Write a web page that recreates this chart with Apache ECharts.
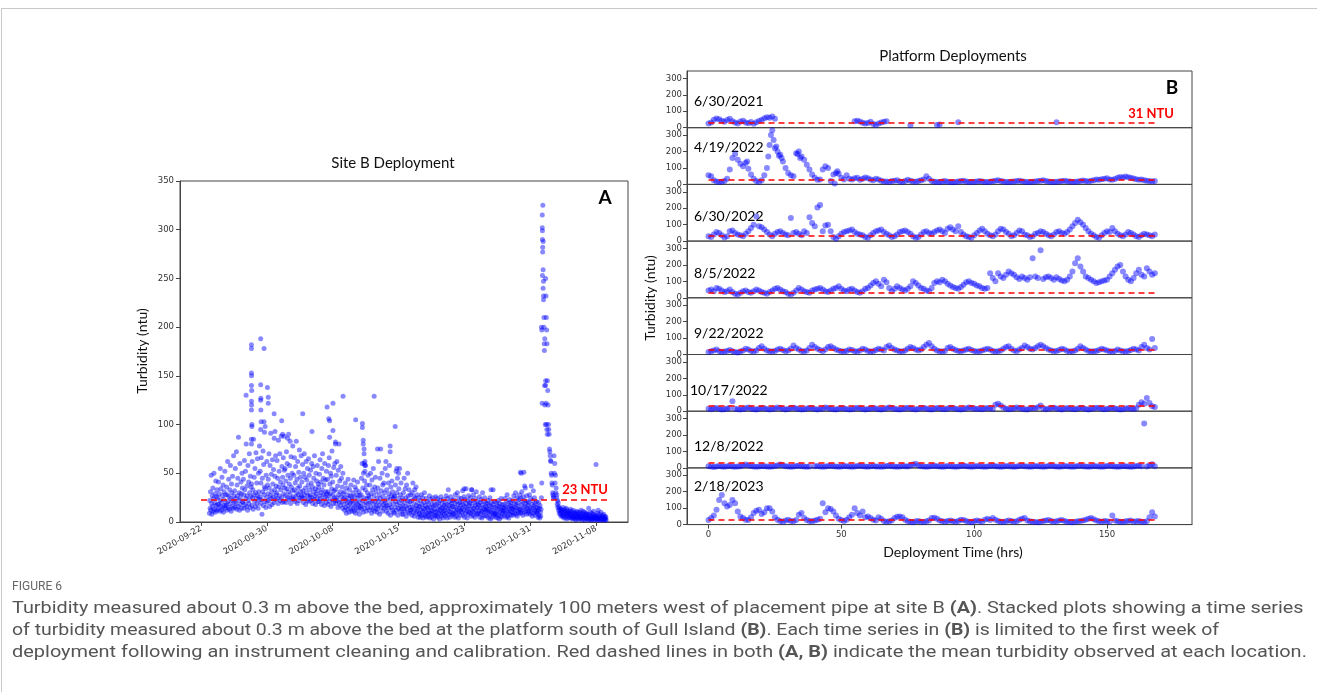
<!DOCTYPE html>
<html>
<head>
<meta charset="utf-8">
<script src="https://cdn.jsdelivr.net/npm/echarts@6/dist/echarts.min.js"></script>
<style>
  html, body { margin: 0; padding: 0; background: #fff; }
  #main { width: 1317px; height: 692px; }
</style>
</head>
<body>
<div id="main"></div>
<script>
// ---- panel A : Site B deployment, hourly turbidity (row 0 = 2020-09-23) ----
var siteBDays = [
  [9,22,14,31,12,48,19,8,27,16,35,11,24,50,13,20,29,10,42,17,26,12,33,18],
  [25,13,41,18,29,11,22,55,16,34,20,12,46,27,15,38,10,23,31,17,52,14,28,19],
  [17,36,12,28,62,21,15,44,26,13,33,19,58,24,11,39,30,16,47,22,14,68,27,20],
  [32,15,55,24,19,72,13,38,27,45,16,87,22,30,12,60,25,18,41,29,14,50,35,21],
  [20,44,28,14,63,33,18,52,24,80,16,37,27,12,58,22,41,19,70,30,15,47,26,36],
  [39,17,62,25,33,13,85,28,46,21,55,16,30,71,24,40,19,65,27,14,50,31,23,78],
  [26,52,19,40,66,23,8,45,31,73,17,59,28,36,21,98,34,15,48,25,62,20,38,29],
  [44,22,70,35,16,58,27,91,24,49,31,18,64,39,26,54,20,86,33,47,23,68,28,37],
  [30,63,24,45,19,84,36,52,27,70,22,41,33,88,25,57,20,46,38,66,29,21,53,35],
  [55,27,42,20,72,34,60,25,48,31,90,23,39,58,28,45,19,67,36,24,50,32,78,26],
  [23,48,33,66,21,40,57,26,83,30,44,19,62,35,28,51,22,74,37,25,46,31,68,27],
  [41,25,59,32,20,50,28,70,24,46,35,18,62,30,43,22,55,27,38,65,21,48,33,26],
  [28,53,22,40,60,25,36,19,57,31,45,23,68,27,34,18,50,29,42,24,58,32,21,39],
  [36,21,49,27,64,24,41,30,18,55,33,70,22,45,28,38,17,60,26,43,31,20,52,29],
  [24,44,31,18,58,27,66,21,39,29,50,16,47,34,73,23,41,28,19,56,32,25,60,22],
  [33,19,48,25,62,22,37,15,53,28,80,20,42,31,17,57,26,45,21,36,14,50,29,24],
  [18,31,12,25,40,15,22,9,35,20,13,28,44,17,24,10,33,19,27,14,38,21,11,26],
  [22,13,30,18,43,11,26,16,36,9,21,33,14,28,19,41,12,24,17,31,8,27,20,15],
  [16,28,45,13,60,22,35,10,50,25,18,42,14,33,58,20,11,38,24,30,15,48,19,27],
  [25,12,38,20,50,15,29,9,43,22,33,13,55,18,27,11,36,21,46,14,31,17,24,10],
  [13,35,21,62,17,28,8,45,24,75,15,32,20,50,11,38,26,18,40,14,30,22,55,16],
  [20,11,33,17,48,25,9,40,14,29,58,18,23,7,36,15,27,42,12,31,19,24,10,26],
  [9,27,15,38,21,52,12,30,18,45,7,24,14,34,20,55,11,28,16,40,13,22,8,25],
  [17,8,30,13,45,20,11,34,16,25,6,38,14,22,50,10,27,18,33,9,21,15,28,12],
  [12,22,7,30,15,40,10,19,26,6,33,14,24,9,36,17,11,28,13,20,5,25,16,8],
  [9,16,5,22,12,28,7,18,11,25,4,14,20,8,30,13,6,17,10,24,5,15,21,9],
  [14,6,19,10,27,4,15,9,23,12,5,18,8,25,11,16,3,21,13,7,17,10,26,6],
  [7,18,11,24,5,13,20,9,16,3,22,12,8,26,14,6,19,10,15,4,23,11,17,8],
  [12,20,6,15,27,9,18,4,24,13,33,8,17,11,21,5,14,26,10,19,7,16,22,9],
  [16,8,23,12,5,19,28,10,15,6,21,13,30,9,18,4,25,11,14,20,7,17,12,24],
  [10,21,14,32,7,18,12,26,5,16,23,9,19,34,11,15,4,22,13,8,27,17,10,20],
  [19,9,25,13,6,33,16,11,22,7,28,14,10,20,5,17,24,12,31,8,15,21,9,18],
  [8,17,12,26,5,20,14,9,23,11,4,18,30,10,15,6,21,13,25,7,16,11,19,12],
  [14,6,19,10,22,4,13,17,8,25,11,3,16,20,9,12,5,18,33,7,15,10,21,8],
  [9,15,5,20,11,7,17,4,13,22,8,16,3,19,10,14,6,24,12,5,18,9,15,11],
  [12,18,7,14,24,9,16,5,21,11,28,6,15,10,19,4,13,23,8,17,11,20,7,14],
  [16,10,22,13,7,27,15,9,19,12,30,8,18,14,25,6,20,11,16,9,23,13,28,10],
  [13,24,9,18,31,12,20,7,26,15,51,10,22,16,35,11,19,8,27,14,21,12,17,9],
  [20,11,28,15,8,24,13,37,10,18,6,22,14,32,9,17,25,12,7,19,15,11,21,10],
  [9,15,5,12,20,7,14,4,17,10,6,13,25,40,122,253,325,288,247,200,183,140,120,100],
  [250,232,210,197,183,145,135,120,100,95,90,75,72,68,63,62,50,48,40,38,30,28,26,25],
  [68,50,60,40,48,30,35,25,28,18,22,15,20,12,16,9,14,11,8,13,6,10,12,7],
  [12,6,15,9,4,11,7,13,5,10,8,14,3,9,12,6,10,4,8,11,5,9,7,13],
  [8,4,11,6,3,9,5,12,4,7,10,3,8,5,9,2,7,11,4,6,10,3,8,5],
  [6,10,3,8,4,12,5,7,2,9,4,11,6,3,8,5,10,2,7,4,9,3,6,8],
  [4,8,3,14,5,2,7,4,10,3,6,2,9,5,3,8,4,11,2,6,4,7,3,5],
  [7,3,5,2,9,4,12,3,6,2,8,4,5,3,10,2,6,4,3,7,2,5,8,3],
  [4,2,6,3,5,2]
];
// extra readings (day since 2020-09-22, ntu)
var siteBSpikes = [
  [5.36,130],[6.0,182],[6.0,178],[6.0,153],[6.02,150],[6.0,140],[6.03,135],[6.0,124],[6.02,120],
  [6.0,115],[6.05,100],[6.05,98],[6.0,85],[6.0,80],[7.1,188],[7.1,141],[7.12,127],[7.1,125],
  [7.12,115],[7.15,103],[7.1,95],[7.5,178],[7.5,103],[7.55,92],[7.9,138],[8.0,128],[8.0,122],
  [8.7,111],[8.8,93],[9.6,104],[9.7,90],[9.9,88],[10.3,86],[10.6,83],[12.1,111],[13.2,93],
  [15.0,118],[15.2,106],[15.3,104],[15.3,87],[15.7,122],[15.7,94],[16.0,82],[16.0,80],[16.9,129],
  [18.4,105],[19.2,101],[19.2,97],[19.3,84],[19.3,80],[19.4,75],[19.4,70],[19.5,62],[19.4,60],
  [19.5,58],[19.5,52],[20.6,129],[21.0,75],[22.0,62],[22.5,78],[22.5,72],[23.1,98],[23.3,55],
  [23.5,50],[31.3,34],[32.2,33],[34.5,33],[38.0,51],[38.1,50],[38.5,37],
  [40.5,200],[40.55,197],[40.6,315],[40.6,302],[40.62,299],[40.62,290],[40.65,282],[40.65,277],
  [40.7,259],[40.7,240],[40.75,232],[40.75,228],[40.8,210],[40.85,176],[40.9,188],[41.0,145],
  [41.0,140],[41.05,122],[41.1,100],[41.15,95],[41.2,90],[47.0,59]
];
var siteBMean = 23;
var dateTickDays = [0, 7.83, 15.67, 23.5, 31.33, 39.17, 47];
var dateTickLabels = ['2020-09-22','2020-09-30','2020-10-08','2020-10-15','2020-10-23','2020-10-31','2020-11-08'];

// ---- panel B : platform deployments, hourly turbidity, [startHour, values] ----
var dep20210630 = [
  [0,[25,32,48,56,52,42,36,47,55,40,31,26,38,43,31,27,35,24,33,41,47,58,63,60,68,55]],
  [55,[40,43,38,30,26,29,36,22,17,25,31,36,40]],
  [76,[15]],[86,[17,20]],[94,[33]],[131,[33]]
];
var dep20220419 = [
  [0,[55,50,25,18,15,16,20,35,90,160,185,150,125,110,130,95,60,35,20,15,25,55,100,240,330,220,200,180,140,100,70,55,50,190,200,170,150,120,90,60,40,28,30,90,110,100,20,60,70,65,40,30,55]],
  [53,[35,30,38,40,28,35,42,38,30,25,35,30,22,18]],
  [67,[18,15,20,22,25,18,15,20,28,22,18,16,20,25,30,50]],
  [83,[35,20,16,14,15,18,20,16,14,13,15,18,20,22,18,15,14,16]],
  [101,[18,20,17,15,14,16,19,22,25,20,17,15,14,16,18,20,22,19,16,15]],
  [121,[14,16,18,20,22,25,20,17,15,14,16,18,20,22,19,17,15,16,18,21,23,20,18,22,25]],
  [146,[30,28,32,35,38,30,28,33,40,45,42,48,44,40,36,32,28,30,25,22,20,18,20]],
  [23.5,[300,270,230,175,160]],[22.5,[170]],[33.5,[185,160]],[14.5,[140]],[47.5,[5,80]]
];
var dep20220630 = [
  [0,[30,25,40,55,50,35,22,30,60,65,50,40,35,30,45,60,80,100,150,90,85,70,55,40,
      30,45,55,60,50,40,35,140,50,55,45,35,60,50,145,110,90,205,220,60,95,100,60,25,
      15,30,45,55,60,65,70,55,45,40,35,25,20,35,50,60,65,70,55,45,35,25,30,40,
      55,60,65,55,45,30,20,25,40,55,60,50,45,55,65,70,60,50,75,85,70,60,90,55,
      40,30,25,20,35,50,65,75,60,45,35,30,40,60,75,70,55,45,30,35,50,65,60,40,
      35,25,30,45,50,60,55,45,35,30,40,55,60,50,45,55,70,90,110,130,115,100,80,60,
      45,35,25,20,35,50,60,55,80,60,45,35,30,40,55,50,40,30,25,35,45,40,35,30,40]]
];
var dep20220805 = [
  [0,[45,50,40,60,55,45,35,40,50,35,25,20,30,40,45,35,30,40,50,45,35,30,25,35,
      45,55,60,50,40,35,25,20,30,45,60,50,40,35,30,45,50,55,60,50,40,35,45,55,
      60,70,55,45,40,50,55,45,35,30,40,55,60,75,90,100,85,70,110,95,60,40,55,70,
      60,50,45,55,70,100,90,75,60,55,45,40,60,90,100,95,110,100,85,75,65,60,55,65,
      80,95,100,90,85,75,70,60,55,60,150,120,100,150,130,120,140,160,150,140,125,115,130,120,
      110,125,240,130,120,290,115,125,130,120,110,125,115,105,100,110,130,160,210,240,190,160,130,120,
      110,100,90,95,100,105,110,130,150,170,190,200,160,130,110,100,120,150,170,140,130,180,160,140,150]]
];
var dep20220922 = [
  [0,[15,20,25,30,20,15,18,22,28,20,15,12,18,25,35,30,22,18,25,40,50,35,25,20,
      18,22,30,35,28,20,25,35,55,40,30,22,18,25,40,60,45,35,28,20,30,45,50,40,
      30,25,20,18,22,30,28,20,18,25,35,30,22,18,20,28,35,30,25,45,55,40,30,25,
      20,18,25,35,45,40,30,25,30,45,60,70,50,35,25,20,18,22,40,45,35,28,22,20,
      25,30,35,28,22,18,20,25,30,35,30,22,18,20,25,35,45,50,35,25,20,30,40,55,
      45,35,30,40,50,60,50,40,30,25,20,22,28,35,30,22,18,20,25,35,50,40,30,22,
      18,20,22,28,35,30,25,20,18,22,30,25,20,18,22,28,35,30,25,45,60,40,30,95,40]]
];
var dep20221017 = [
  [0,[15,12,18,20,14,10,12,16,20,60,15,12,10,14,18,22,16,12,10,15,20,18,14,11,
      13,17,22,20,15,11,14,19,21,17,13,10,12,16,20,18,14,11,13,17,22,19,15,12,
      11,15,19,17,13,10,12,16,21,18,14,11,13,17,20,16,12,10,14,18,22,19,15,12,
      10,14,18,21,17,13,11,15,19,20,16,12,11,15,20,18,14,12,16,21,19,15,12,10,
      13,18,22,20,16,13,15,12,16,20,18,14,40,45,35,22,15,12,14,18,22,19,15,12,
      11,16,20,18,24,35,16,12,15,19,21,17,13,11,15,19,17,14,12,16,20,18,14,11,
      13,17,21,19,15,12,14,18,20,17,13,11,12,16,19,15,13,18,40,55,45,80,50,30,25]]
];
var dep20221208 = [
  [0,[10,8,6,9,11,8,7,10,12,9,7,8,10,14,20,15,11,8,7,9,12,10,8,7,
      9,12,15,20,14,10,8,7,9,11,13,10,8,7,9]],
  [40,[10,12,9,7,8,11,13,10,8,7,9,12,10,8,7,9,11,13,10,8,7,10,12,9,
       8,7,9,11,13,10,8,7,9,12,10,8,14,20,25,15,10,8,7,9,11,13,10,8,
       7,9,12,10,8,7,9,11,13,10,8,7,9,12,10,8,7,9,11,13,10,8,7,9,
       12,10,8,7,9,11,13,10,8,7,9,12,10,8,7,9,11,13,10,8,7,9,12,10,
       8,7,9,11,13,10,8,7,9,12,10,8,7,9,11,13,10,8,7,9,12,10,8,7,
       9,11,13,10,270,8,15,22,10]]
];
var dep20230218 = [
  [0,[28,40,55,90,150,180,130,110,120,150,130,80,50,40,30,28,45,70,85,90,65,75,100,100,
      80,45,30,22,18,25,30,22,20,28,60,70,40,28,22,20,25,30,35,130,75,100,95,80,
      55,35,28,22,30,45,60,100,70,55,80,45,50,40,30,25,45,35,22,18,20,25,40,48,
      50,45,30,20,18,15,20,22,18,16,20,25,40,42,35,25,20,18,22,25,20,18,22,30,
      28,22,18,15,20,25,22,18,30,35,28,40,30,22,18,16,20,25,22,18,20,30,35,40,
      25,20,18,16,15,18,22,25,28,22,18,20,25,28,22,18,16,15,18,20,22,25,30,35,
      40,32,25,20,18,22,20,18,55,25,20,18,16,20,22,25,18,20,22,18,16,20,45,75,50]]
];
var deployments = [dep20210630, dep20220419, dep20220630, dep20220805,
                   dep20220922, dep20221017, dep20221208, dep20230218];
var deploymentLabels = ['6/30/2021','4/19/2022','6/30/2022','8/5/2022',
                        '9/22/2022','10/17/2022','12/8/2022','2/18/2023'];
var platformMean = 31;
var meanLineEnd = 168;
var hourTicks = [0, 50, 100, 150];
var ntuTicks = [0, 100, 200, 300];

(function () {
  var myChart = echarts.init(document.getElementById('main'));
  var blue = 'rgba(0,0,255,0.58)';
  var tickFont = { fontFamily: 'DejaVu Sans', fontSize: 8.5, color: '#333' };
  var figFont = 'Lato';

  // stretch a text horizontally so it spans the same width as in the figure
  var ctx = document.createElement('canvas').getContext('2d');
  function fitScale(text, font, width) {
    ctx.font = font;
    return width / ctx.measureText(text.replace(/\{b\|([^}]*)\}/g, '$1')).width;
  }

  // panel A points
  var siteBPoints = [];
  siteBDays.forEach(function (row, i) {
    row.forEach(function (v, h) { siteBPoints.push([i + 1 + h / 24, v]); });
  });
  siteBSpikes.forEach(function (p) { siteBPoints.push(p); });

  function fromSegments(segs) {
    var out = [];
    segs.forEach(function (s) {
      s[1].forEach(function (v, j) { out.push([s[0] + j, v]); });
    });
    return out;
  }

  var grids = [{ left: 180, top: 181, width: 448, height: 341,
                 show: true, borderColor: '#444', borderWidth: 1 }];
  var xAxes = [{
    gridIndex: 0, type: 'value', min: -2.5, max: 50.8,
    axisLine: { show: true, onZero: false, lineStyle: { color: '#444' } },
    axisTick: { show: true, length: 4, customValues: dateTickDays, lineStyle: { color: '#444' } },
    axisLabel: Object.assign({ rotate: 30, margin: 6, customValues: dateTickDays,
      formatter: function (v) {
        for (var i = 0; i < dateTickDays.length; i++) {
          if (Math.abs(dateTickDays[i] - v) < 0.01) return dateTickLabels[i];
        }
        return '';
      } }, tickFont),
    splitLine: { show: false }
  }];
  var yAxes = [{
    gridIndex: 0, type: 'value', min: 0, max: 350, interval: 50,
    axisLine: { show: true, onZero: false, lineStyle: { color: '#444' } },
    axisTick: { show: true, length: 4, lineStyle: { color: '#444' } },
    axisLabel: Object.assign({ margin: 6 }, tickFont),
    splitLine: { show: false }
  }];
  var series = [{
    type: 'scatter', xAxisIndex: 0, yAxisIndex: 0,
    symbolSize: 5, itemStyle: { color: blue },
    data: siteBPoints,
    markLine: {
      silent: true, symbol: 'none', animation: false,
      lineStyle: { color: '#ff0000', type: [6, 4], width: 1.5 },
      label: { show: false },
      data: [[{ coord: [0, siteBMean] }, { coord: [48.3, siteBMean] }]]
    }
  }];

  var bTop = 71, bH = 56.7;
  deployments.forEach(function (dep, k) {
    var last = k === deployments.length - 1;
    grids.push({ left: 687, top: bTop + k * bH, width: 505, height: bH,
                 show: true, borderColor: '#444', borderWidth: 1 });
    xAxes.push({
      gridIndex: k + 1, type: 'value', min: -8.1, max: 182,
      axisLine: { show: last, onZero: false, lineStyle: { color: '#444' } },
      axisTick: { show: last, length: 4, customValues: hourTicks, lineStyle: { color: '#444' } },
      axisLabel: Object.assign({ show: last, margin: 6, customValues: hourTicks }, tickFont),
      splitLine: { show: false }
    });
    yAxes.push({
      gridIndex: k + 1, type: 'value', min: 0, max: 345,
      axisLine: { show: true, onZero: false, lineStyle: { color: '#444' } },
      axisTick: { show: true, length: 4, customValues: ntuTicks, lineStyle: { color: '#444' } },
      axisLabel: Object.assign({ margin: 5, customValues: ntuTicks }, tickFont),
      splitLine: { show: false }
    });
    series.push({
      type: 'scatter', xAxisIndex: k + 1, yAxisIndex: k + 1,
      symbolSize: 6, itemStyle: { color: blue },
      data: fromSegments(dep),
      markLine: {
        silent: true, symbol: 'none', animation: false,
        lineStyle: { color: '#ff0000', type: [6, 4], width: 1.5 },
        label: { show: false },
        data: [[{ coord: [0, platformMean] }, { coord: [meanLineEnd, platformMean] }]]
      }
    });
  });

  var labelY = [101, 147, 216.7, 273, 333, 390, 446.7, 486.7];
  var figLabelFont = '13px Roboto';
  var graphics = [
    { type: 'line', shape: { x1: 1.5, y1: 8.5, x2: 1317, y2: 8.5 }, style: { stroke: '#c8c8c8', lineWidth: 1 } },
    { type: 'line', shape: { x1: 1.5, y1: 8.5, x2: 1.5, y2: 692 }, style: { stroke: '#c8c8c8', lineWidth: 1 } },
    { type: 'text', x: 393, y: 163, style: { text: 'Site B Deployment', font: '15px ' + figFont, fill: '#111', textAlign: 'center', textVerticalAlign: 'middle' } },
    { type: 'text', x: 605, y: 198, style: { text: 'A', font: 'bold 19px ' + figFont, fill: '#000', textAlign: 'center', textVerticalAlign: 'middle' } },
    { type: 'text', x: 142, y: 351, rotation: Math.PI / 2, style: { text: 'Turbidity (ntu)', font: '14px ' + figFont, fill: '#111', textAlign: 'center', textVerticalAlign: 'middle' } },
    { type: 'text', x: 585, y: 490, style: { text: siteBMean + ' NTU', font: 'bold 13px ' + figFont, fill: '#ff0000', textAlign: 'center', textVerticalAlign: 'middle' } },
    { type: 'text', x: 953, y: 56, style: { text: 'Platform Deployments', font: '15px ' + figFont, fill: '#111', textAlign: 'center', textVerticalAlign: 'middle' } },
    { type: 'text', x: 1172, y: 88, style: { text: 'B', font: 'bold 19px ' + figFont, fill: '#000', textAlign: 'center', textVerticalAlign: 'middle' } },
    { type: 'text', x: 1151, y: 114, style: { text: platformMean + ' NTU', font: 'bold 13px ' + figFont, fill: '#ff0000', textAlign: 'center', textVerticalAlign: 'middle' } },
    { type: 'text', x: 650, y: 298, rotation: Math.PI / 2, style: { text: 'Turbidity (ntu)', font: '14px ' + figFont, fill: '#111', textAlign: 'center', textVerticalAlign: 'middle' } },
    { type: 'text', x: 953, y: 552, style: { text: 'Deployment Time (hrs)', font: '14px ' + figFont, fill: '#111', textAlign: 'center', textVerticalAlign: 'middle' } },
    { type: 'text', x: 12, y: 587, scaleX: fitScale('FIGURE 6', figLabelFont, 50),
      style: { text: 'FIGURE 6', font: figLabelFont, fill: '#666', textVerticalAlign: 'middle' } }
  ];
  deploymentLabels.forEach(function (t, k) {
    graphics.push({ type: 'text', x: t.length > 9 ? 690 : 694, y: labelY[k],
      style: { text: t, font: '14px ' + figFont, fill: '#000', textVerticalAlign: 'middle' } });
  });

  var captionLines = [
    'Turbidity measured about 0.3 m above the bed, approximately 100 meters west of placement pipe at site B {b|(A)}. Stacked plots showing a time series',
    'of turbidity measured about 0.3 m above the bed at the platform south of Gull Island {b|(B)}. Each time series in {b|(B)} is limited to the first week of',
    'deployment following an instrument cleaning and calibration. Red dashed lines in both {b|(A, B)} indicate the mean turbidity observed at each location.'
  ];
  var captionWidths = [1291, 1206, 1293];
  var capFont = 'Roboto', capSize = 17;
  captionLines.forEach(function (t, i) {
    graphics.push({ type: 'text', x: 12, y: 609 + i * 22,
      scaleX: fitScale(t, capSize + 'px ' + capFont, captionWidths[i]),
      style: { text: t, fontFamily: capFont, fontSize: capSize, fill: '#555', textVerticalAlign: 'middle',
        rich: { b: { fontFamily: capFont, fontSize: capSize, fontWeight: 'bold', fill: '#555' } } } });
  });

  var option = {
    animation: false,
    backgroundColor: '#fff',
    grid: grids,
    xAxis: xAxes,
    yAxis: yAxes,
    series: series,
    graphic: graphics
  };
  myChart.setOption(option);
  window.addEventListener('resize', function () { myChart.resize(); });
})();
</script>
</body>
</html>
